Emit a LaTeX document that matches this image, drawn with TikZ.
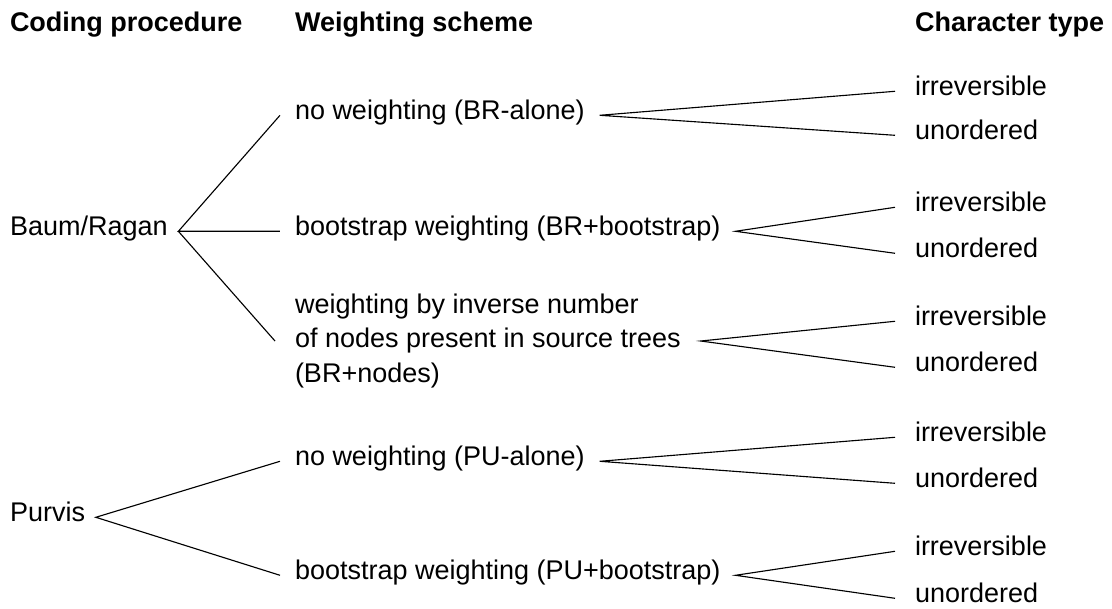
\documentclass[tikz,border=0pt]{standalone}
\usepackage{fontspec}
\setmainfont{Liberation Sans}
\usepackage{tikz}
\newcommand{\diagfont}{\fontsize{19.2}{24.2}\selectfont}
\tikzstyle{heading} = [
    inner sep=0pt,
    anchor=text,
    font=\diagfont\bfseries
]
\tikzstyle{procedure} = [
    inner sep=0pt,
    outer xsep=0.27cm,
    anchor=text,
    font=\diagfont
]
\tikzstyle{scheme} = [
    inner sep=0pt,
    outer xsep=0.375cm,
    anchor=text,
    font=\diagfont
]
\tikzstyle{chartype} = [
    inner sep=0pt,
    outer xsep=0.5cm,
    anchor=text,
    font=\diagfont
]
\tikzstyle{branch} = [
    draw=black,
    line width=0.8pt
]

\begin{document}
\begin{tikzpicture}[x=0.025cm, y=-0.025cm]
        \useasboundingbox (0,0) rectangle (1112,608);

        % Headers
        \node[heading] (hproc) at (10,31) {Coding procedure};
        \node[heading] (hscheme) at (295,31) {Weighting scheme};
        \node[heading] (htype) at (915,31) {Character type};

        % Coding procedures
        \node[procedure] (br) at (10,235) {Baum/Ragan};
        \node[procedure] (pu) at (10,521) {Purvis};

        % Weighting schemes
        \node[scheme] (brnone) at (295,119) {no weighting (BR-alone)};
        \node[scheme] (brboot) at (295,235) {bootstrap weighting (BR+bootstrap)};
        \node[scheme, anchor=west, align=left, outer xsep=0.5cm] (brnodes) at (275,341)
            {weighting by inverse number\\of nodes present in source trees\\(BR+nodes)};
        \node[scheme] (punone) at (295,465) {no weighting (PU-alone)};
        \node[scheme] (puboot) at (295,579) {bootstrap weighting (PU+bootstrap)};

        % Character types
        \node[chartype] (irr1) at (915,95) {irreversible};
        \node[chartype] (uno1) at (915,139) {unordered};
        \node[chartype] (irr2) at (915,211) {irreversible};
        \node[chartype] (uno2) at (915,257) {unordered};
        \node[chartype] (irr3) at (915,325) {irreversible};
        \node[chartype] (uno3) at (915,371) {unordered};
        \node[chartype] (irr4) at (915,441) {irreversible};
        \node[chartype] (uno4) at (915,487) {unordered};
        \node[chartype] (irr5) at (915,555) {irreversible};
        \node[chartype] (uno5) at (915,602) {unordered};

        % Branches
        \draw[branch] (brnone.mid west) -- (br.mid east) -- (brboot.mid west);
        \draw[branch] (br.mid east) -- (brnodes.west);
        \draw[branch] (punone.mid west) -- (pu.mid east) -- (puboot.mid west);

        \draw[branch] (irr1.mid west) -- (brnone.mid east) -- (uno1.mid west);
        \draw[branch] (irr2.mid west) -- (brboot.mid east) -- (uno2.mid west);
        \draw[branch] (irr3.mid west) -- (brnodes.east) -- (uno3.mid west);
        \draw[branch] (irr4.mid west) -- (punone.mid east) -- (uno4.mid west);
        \draw[branch] (irr5.mid west) -- (puboot.mid east) -- (uno5.mid west);
    \end{tikzpicture}
\end{document}
